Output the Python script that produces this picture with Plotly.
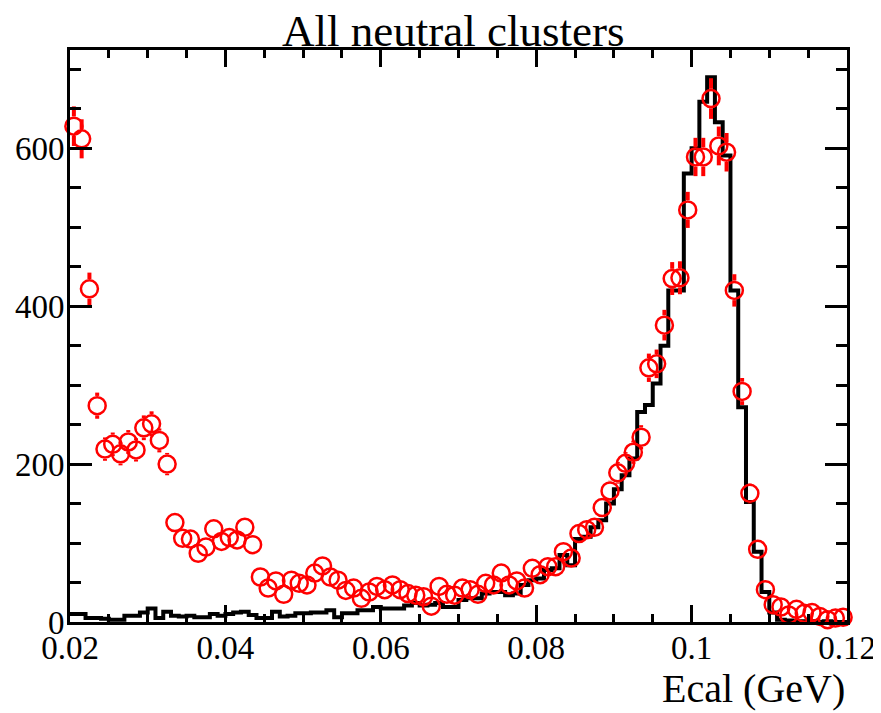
import numpy as np
import plotly.graph_objects as go

# ---- data ----
bin_low = 0.02
bin_width = 0.001
n_bins = 100

# red points: data counts per bin (Ecal 0.020 -> 0.120 GeV)
data_counts = [
    628, 612, 422, 274, 219, 225, 213, 228, 218, 246,
    251, 230, 200, 126, 106, 105, 87, 95, 118, 102,
    107, 104, 120, 98, 57, 43, 52, 35, 53, 49,
    47, 62, 71, 57, 53, 40, 43, 30, 38, 45,
    41, 47, 41, 36, 34, 32, 20, 45, 35, 34,
    43, 41, 35, 49, 47, 62, 47, 52, 43, 68,
    60, 70, 70, 89, 81, 112, 117, 120, 145, 166,
    189, 201, 215, 234, 322, 327, 376, 435, 436, 522,
    589, 589, 663, 603, 595, 420, 292, 163, 92, 41,
    22, 19, 9, 16, 11, 12, 7, 3, 5, 6,
]

# black histogram: simulation counts per bin
mc_counts = [
    10, 10, 5, 5, 4, 3, 3, 8, 8, 12,
    17, 5, 13, 8, 7, 8, 6, 6, 10, 8,
    10, 12, 13, 9, 5, 5, 13, 7, 8, 11,
    11, 12, 12, 15, 6, 11, 11, 15, 15, 19,
    17, 17, 17, 21, 24, 21, 22, 24, 19, 19,
    28, 30, 30, 36, 38, 38, 34, 36, 47, 53,
    55, 66, 68, 85, 72, 105, 108, 120, 129, 150,
    168, 186, 207, 266, 275, 302, 350, 420, 420, 568,
    600, 659, 690, 633, 591, 420, 272, 152, 89, 38,
    12, 3, 2, 1, 1, 1, 0, 1, 0, 0,
]

x_ticks = [0.02, 0.04, 0.06, 0.08, 0.1, 0.12]
x_tick_labels = ["0.02", "0.04", "0.06", "0.08", "0.1", "0.12"]
y_ticks = [0, 200, 400, 600]
y_tick_labels = ["0", "200", "400", "600"]

title_text = "All neutral clusters"
x_title = "Ecal (GeV)"

# ---- derived ----
edges = np.round(bin_low + bin_width * np.arange(n_bins + 1), 4)
centers = np.round(bin_low + bin_width * (np.arange(n_bins) + 0.5), 4)
data = np.array(data_counts, dtype=float)
errs = np.sqrt(data)
mc = np.array(mc_counts, dtype=float)

# page has an 8px body margin: size figure so the frame lands where the reference has it
off = 8
W, H = 881 - off, 713 - off
ml, mr, mt, mb = 70 - off, 34, 50 - off, 91
plot_w = W - ml - mr
plot_h = H - mt - mb
y_max = 1.05 * mc.max()
units_per_px = y_max / plot_h

marker_size = 17
marker_lw = 2.5
r_units = (marker_size / 2 + marker_lw / 2) * units_per_px

# error bar segments outside the open circle (ROOT style)
ex, ey = [], []
for xc, yc, e in zip(centers, data, errs):
    if e > r_units:
        ex += [xc, xc, None, xc, xc, None]
        ey += [yc + r_units, yc + e, None, yc - r_units, yc - e, None]

serif = "Liberation Serif, Times New Roman, serif"

fig = go.Figure()
fig.add_trace(go.Scatter(
    x=edges, y=list(mc) + [mc[-1]], mode="lines",
    line=dict(color="black", width=4, shape="hv"),
    hoverinfo="skip", showlegend=False,
))
fig.add_trace(go.Scatter(
    x=ex, y=ey, mode="lines",
    line=dict(color="#ff0000", width=4),
    hoverinfo="skip", showlegend=False,
))
fig.add_trace(go.Scatter(
    x=centers, y=data, mode="markers",
    marker=dict(symbol="circle-open", size=marker_size,
                color="#ff0000", line=dict(width=marker_lw, color="#ff0000")),
    showlegend=False, cliponaxis=False,
))

axis_common = dict(
    showline=True, linecolor="black", linewidth=3, mirror="ticks",
    ticks="inside", tickcolor="black", tickwidth=2.5,
    showgrid=False, zeroline=False, automargin=False,
    tickfont=dict(family=serif, size=33, color="black"),
)

fig.update_layout(
    width=W, height=H,
    margin=dict(l=ml, r=mr, t=mt, b=mb, autoexpand=False),
    paper_bgcolor="white", plot_bgcolor="white",
    xaxis=dict(range=[0.02, 0.12], tickvals=x_ticks, ticktext=x_tick_labels,
               ticklen=17, ticklabelstandoff=-6,
               minor=dict(dtick=0.005, tick0=0.02, ticklen=8, ticks="inside",
                          tickcolor="black", tickwidth=2.5, showgrid=False),
               **axis_common),
    yaxis=dict(range=[0, y_max], tickvals=y_ticks, ticktext=y_tick_labels,
               ticklen=22, ticklabelstandoff=-4,
               minor=dict(dtick=50, tick0=0, ticklen=11, ticks="inside",
                          tickcolor="black", tickwidth=2.5, showgrid=False),
               **axis_common),
    annotations=[
        dict(text=title_text, xref="paper", yref="paper",
             x=(453 - 70) / plot_w, y=1 + (50 - 31) / plot_h,
             xanchor="center", yanchor="middle", showarrow=False,
             font=dict(family=serif, size=45, color="black")),
        dict(text=x_title, xref="paper", yref="paper",
             x=1, y=-(688 - 622) / plot_h,
             xanchor="right", yanchor="middle", showarrow=False,
             font=dict(family=serif, size=40, color="black")),
    ],
)

fig.write_html("out.html")
